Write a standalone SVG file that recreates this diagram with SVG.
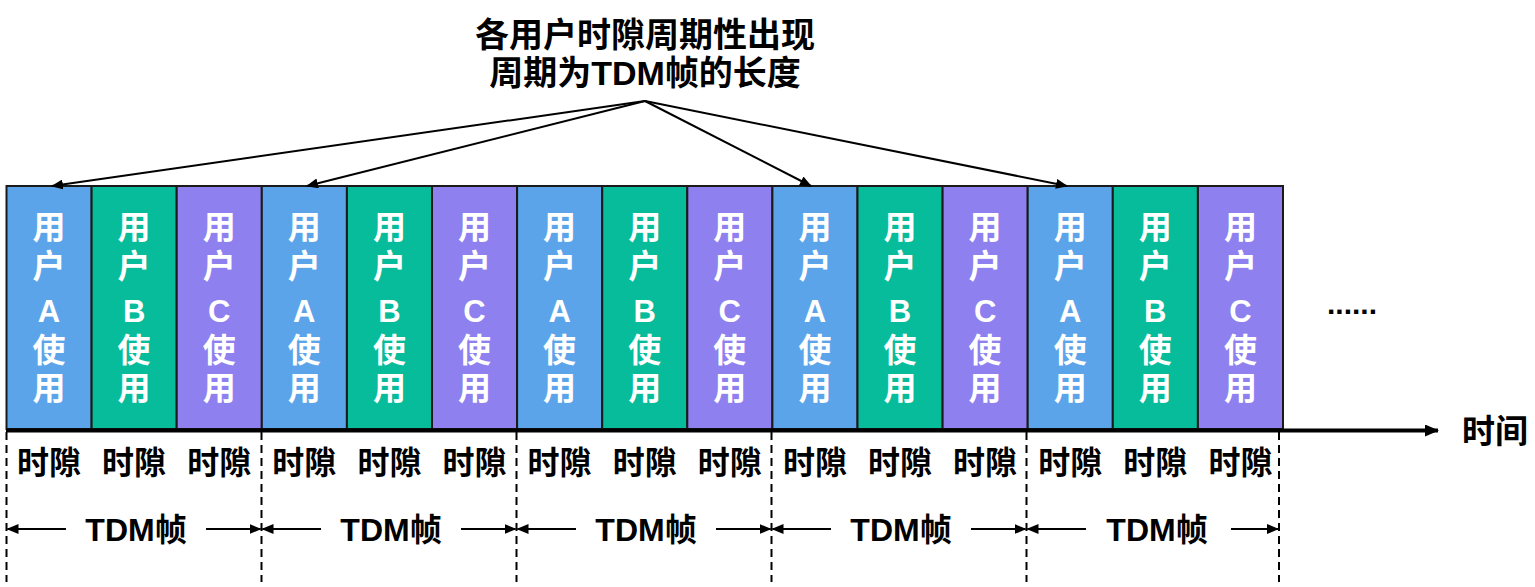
<svg xmlns="http://www.w3.org/2000/svg" width="1535" height="587" viewBox="0 0 1535 587">
<defs>
<style>
text{font-family:"Liberation Sans","Noto Sans CJK SC",sans-serif;font-weight:bold;text-anchor:middle}
.w{fill:#fff;font-size:33px}
.l{fill:#fff;font-size:31px}
.k{fill:#000;font-size:32px}
.a{fill:#5CA4EA}.b{fill:#06BC9A}.c{fill:#8E80EF}
.box{stroke:#1a1a1a;stroke-width:2}
.ln{stroke:#000;stroke-width:2;fill:none}
.dash{stroke:#000;stroke-width:2;stroke-dasharray:8 5;fill:none}
</style>
<marker id="ah" viewBox="0 0 12 10" refX="11" refY="5" markerWidth="12" markerHeight="10" markerUnits="userSpaceOnUse" orient="auto"><path d="M0,0 L12,5 L0,10 Z" fill="#000"/></marker>
<marker id="ah2" viewBox="0 0 14 12" refX="13" refY="6" markerWidth="14" markerHeight="12" markerUnits="userSpaceOnUse" orient="auto"><path d="M0,0 L14,6 L0,12 Z" fill="#000"/></marker>
</defs>
<g id="title">
<text x="645" y="47" style="font-size:34px">各用户时隙周期性出现</text>
<text x="645" y="85" style="font-size:34px">周期为TDM帧的长度</text>
</g>
<g id="slots">
<g id="s0"><rect class="box a" x="6.5" y="186" width="85.1" height="243"/><text class="w" x="49" y="239">用</text><text class="w" x="49" y="278">户</text><text class="l" x="49" y="322">A</text><text class="w" x="49" y="362">使</text><text class="w" x="49" y="400">用</text></g>
<g id="s1"><rect class="box b" x="91.6" y="186" width="85.1" height="243"/><text class="w" x="134.1" y="239">用</text><text class="w" x="134.1" y="278">户</text><text class="l" x="134.1" y="322">B</text><text class="w" x="134.1" y="362">使</text><text class="w" x="134.1" y="400">用</text></g>
<g id="s2"><rect class="box c" x="176.7" y="186" width="85.1" height="243"/><text class="w" x="219.2" y="239">用</text><text class="w" x="219.2" y="278">户</text><text class="l" x="219.2" y="322">C</text><text class="w" x="219.2" y="362">使</text><text class="w" x="219.2" y="400">用</text></g>
<g id="s3"><rect class="box a" x="261.8" y="186" width="85.1" height="243"/><text class="w" x="304.3" y="239">用</text><text class="w" x="304.3" y="278">户</text><text class="l" x="304.3" y="322">A</text><text class="w" x="304.3" y="362">使</text><text class="w" x="304.3" y="400">用</text></g>
<g id="s4"><rect class="box b" x="346.9" y="186" width="85.1" height="243"/><text class="w" x="389.4" y="239">用</text><text class="w" x="389.4" y="278">户</text><text class="l" x="389.4" y="322">B</text><text class="w" x="389.4" y="362">使</text><text class="w" x="389.4" y="400">用</text></g>
<g id="s5"><rect class="box c" x="432" y="186" width="85.1" height="243"/><text class="w" x="474.5" y="239">用</text><text class="w" x="474.5" y="278">户</text><text class="l" x="474.5" y="322">C</text><text class="w" x="474.5" y="362">使</text><text class="w" x="474.5" y="400">用</text></g>
<g id="s6"><rect class="box a" x="517.1" y="186" width="85.1" height="243"/><text class="w" x="559.6" y="239">用</text><text class="w" x="559.6" y="278">户</text><text class="l" x="559.6" y="322">A</text><text class="w" x="559.6" y="362">使</text><text class="w" x="559.6" y="400">用</text></g>
<g id="s7"><rect class="box b" x="602.2" y="186" width="85.1" height="243"/><text class="w" x="644.7" y="239">用</text><text class="w" x="644.7" y="278">户</text><text class="l" x="644.7" y="322">B</text><text class="w" x="644.7" y="362">使</text><text class="w" x="644.7" y="400">用</text></g>
<g id="s8"><rect class="box c" x="687.3" y="186" width="85.1" height="243"/><text class="w" x="729.8" y="239">用</text><text class="w" x="729.8" y="278">户</text><text class="l" x="729.8" y="322">C</text><text class="w" x="729.8" y="362">使</text><text class="w" x="729.8" y="400">用</text></g>
<g id="s9"><rect class="box a" x="772.4" y="186" width="85.1" height="243"/><text class="w" x="814.9" y="239">用</text><text class="w" x="814.9" y="278">户</text><text class="l" x="814.9" y="322">A</text><text class="w" x="814.9" y="362">使</text><text class="w" x="814.9" y="400">用</text></g>
<g id="s10"><rect class="box b" x="857.5" y="186" width="85.1" height="243"/><text class="w" x="900" y="239">用</text><text class="w" x="900" y="278">户</text><text class="l" x="900" y="322">B</text><text class="w" x="900" y="362">使</text><text class="w" x="900" y="400">用</text></g>
<g id="s11"><rect class="box c" x="942.6" y="186" width="85.1" height="243"/><text class="w" x="985.1" y="239">用</text><text class="w" x="985.1" y="278">户</text><text class="l" x="985.1" y="322">C</text><text class="w" x="985.1" y="362">使</text><text class="w" x="985.1" y="400">用</text></g>
<g id="s12"><rect class="box a" x="1027.7" y="186" width="85.1" height="243"/><text class="w" x="1070.2" y="239">用</text><text class="w" x="1070.2" y="278">户</text><text class="l" x="1070.2" y="322">A</text><text class="w" x="1070.2" y="362">使</text><text class="w" x="1070.2" y="400">用</text></g>
<g id="s13"><rect class="box b" x="1112.8" y="186" width="85.1" height="243"/><text class="w" x="1155.3" y="239">用</text><text class="w" x="1155.3" y="278">户</text><text class="l" x="1155.3" y="322">B</text><text class="w" x="1155.3" y="362">使</text><text class="w" x="1155.3" y="400">用</text></g>
<g id="s14"><rect class="box c" x="1197.9" y="186" width="85.1" height="243"/><text class="w" x="1240.4" y="239">用</text><text class="w" x="1240.4" y="278">户</text><text class="l" x="1240.4" y="322">C</text><text class="w" x="1240.4" y="362">使</text><text class="w" x="1240.4" y="400">用</text></g>
</g>
<g id="ellipsis"><text x="1352" y="314" style="font-size:30px;fill:#000">......</text></g>
<g id="slotlabels">
<text class="k" x="49" y="474">时隙</text><text class="k" x="134.1" y="474">时隙</text><text class="k" x="219.2" y="474">时隙</text>
<text class="k" x="304.3" y="474">时隙</text><text class="k" x="389.4" y="474">时隙</text><text class="k" x="474.5" y="474">时隙</text>
<text class="k" x="559.6" y="474">时隙</text><text class="k" x="644.7" y="474">时隙</text><text class="k" x="729.8" y="474">时隙</text>
<text class="k" x="814.9" y="474">时隙</text><text class="k" x="900" y="474">时隙</text><text class="k" x="985.1" y="474">时隙</text>
<text class="k" x="1070.2" y="474">时隙</text><text class="k" x="1155.3" y="474">时隙</text><text class="k" x="1240.4" y="474">时隙</text>
</g>
<g id="timelabel"><text x="1495" y="443" style="font-size:33px;fill:#000">时间</text></g>
<g id="framelabels">
<text class="k" x="136" y="541">TDM帧</text><text class="k" x="391" y="541">TDM帧</text><text class="k" x="646" y="541">TDM帧</text><text class="k" x="901" y="541">TDM帧</text><text class="k" x="1157" y="541">TDM帧</text>
</g>
<g id="connectors">
<line x1="6" y1="430.5" x2="1438" y2="430.5" style="stroke:#000;stroke-width:4" marker-end="url(#ah2)"/>
<path class="dash" d="M6.5,432V582M261.5,432V582M516.5,432V582M771.5,432V582M1026.5,432V582M1279,432V582"/>
<line class="ln" x1="645" y1="101" x2="52" y2="186" marker-end="url(#ah)"/>
<line class="ln" x1="645" y1="101" x2="307" y2="186" marker-end="url(#ah)"/>
<line class="ln" x1="645" y1="101" x2="811" y2="186" marker-end="url(#ah)"/>
<line class="ln" x1="645" y1="101" x2="1067" y2="186" marker-end="url(#ah)"/>
<g>
<line class="ln" x1="66" y1="529" x2="7.5" y2="529" marker-end="url(#ah)"/><line class="ln" x1="206" y1="529" x2="260.5" y2="529" marker-end="url(#ah)"/>
<line class="ln" x1="321" y1="529" x2="262.5" y2="529" marker-end="url(#ah)"/><line class="ln" x1="461" y1="529" x2="515.5" y2="529" marker-end="url(#ah)"/>
<line class="ln" x1="576" y1="529" x2="517.5" y2="529" marker-end="url(#ah)"/><line class="ln" x1="716" y1="529" x2="770.5" y2="529" marker-end="url(#ah)"/>
<line class="ln" x1="831" y1="529" x2="772.5" y2="529" marker-end="url(#ah)"/><line class="ln" x1="971" y1="529" x2="1025.5" y2="529" marker-end="url(#ah)"/>
<line class="ln" x1="1086" y1="529" x2="1027.5" y2="529" marker-end="url(#ah)"/><line class="ln" x1="1231" y1="529" x2="1278" y2="529" marker-end="url(#ah)"/>
</g>
</g>
</svg>
